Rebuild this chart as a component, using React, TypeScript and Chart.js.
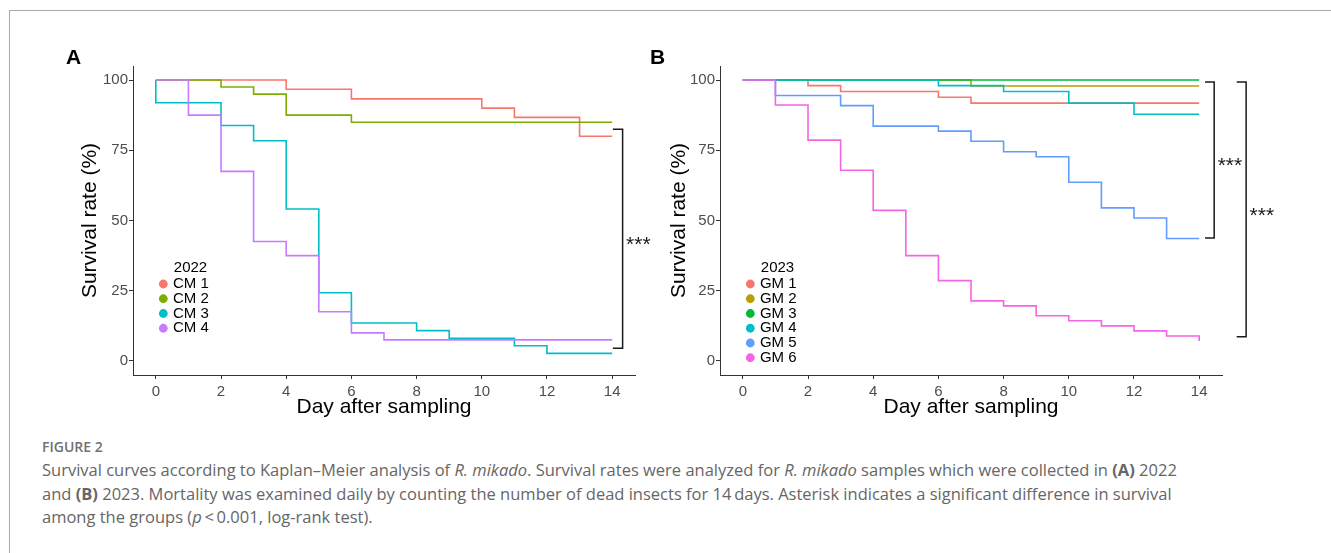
import React, { useEffect, useRef } from 'react';
import { Chart, registerables } from 'chart.js';

Chart.register(...registerables);

const FONT = '"Liberation Sans", Arial, Helvetica, sans-serif';

// ---- shared axes ----
const dayTicks = [0, 2, 4, 6, 8, 10, 12, 14];
const rateTicks = [0, 25, 50, 75, 100];
const xTitle = 'Day after sampling';
const yTitle = 'Survival rate (%)';

// ---- Panel A (2022) ----
const legendTitleA = '2022';
const namesA = ['CM 1', 'CM 2', 'CM 3', 'CM 4'];
const colorsA = ['#F8766D', '#7CAE00', '#00BFC4', '#C77CFF'];
const cm1Days = [0, 4, 6, 10, 11, 13, 14];
const cm1Rate = [100, 96.7, 93.3, 90, 86.7, 80, 80];
const cm2Days = [0, 2, 3, 4, 6, 14];
const cm2Rate = [100, 97.5, 95, 87.5, 85, 85];
const cm3Days = [0, 0, 2, 3, 4, 5, 6, 8, 9, 11, 12, 14];
const cm3Rate = [100, 91.9, 83.8, 78.4, 54.1, 24.3, 13.5, 10.8, 8.1, 5.4, 2.7, 2.7];
const cm4Days = [0, 1, 2, 3, 4, 5, 6, 7, 14];
const cm4Rate = [100, 87.5, 67.5, 42.5, 37.5, 17.5, 10, 7.5, 7.5];

// significance bracket A: x of bar, x of arms, top, bottom, label y
const bracketsA = [{ x: 14.32, arm: 14.02, top: 82.5, bottom: 4.5, labelY: 43, label: '***' }];

// ---- Panel B (2023) ----
const legendTitleB = '2023';
const namesB = ['GM 1', 'GM 2', 'GM 3', 'GM 4', 'GM 5', 'GM 6'];
const colorsB = ['#F8766D', '#B79F00', '#00BA38', '#00BFC4', '#619CFF', '#F564E3'];
const gm1Days = [0, 2, 3, 6, 7, 14];
const gm1Rate = [100, 98, 95.9, 93.9, 91.8, 91.8];
const gm2Days = [0, 7, 14];
const gm2Rate = [100, 97.9, 97.9];
const gm3Days = [0, 14];
const gm3Rate = [100, 100];
const gm4Days = [0, 6, 8, 10, 12, 14];
const gm4Rate = [100, 98, 95.9, 91.8, 87.8, 87.8];
const gm5Days = [0, 1, 3, 4, 6, 7, 8, 9, 10, 11, 12, 13, 14];
const gm5Rate = [100, 94.5, 90.9, 83.6, 81.8, 78.2, 74.5, 72.7, 63.6, 54.5, 50.9, 43.6, 43.6];
const gm6Days = [0, 1, 2, 3, 4, 5, 6, 7, 8, 9, 10, 11, 12, 13, 14];
const gm6Rate = [100, 91.1, 78.6, 67.9, 53.6, 37.5, 28.6, 21.4, 19.6, 16.1, 14.3, 12.5, 10.7, 8.9, 7.1];

const bracketsB = [
  { x: 14.46, arm: 14.18, top: 99.3, bottom: 43.8, labelY: 71.3, label: '***' },
  { x: 15.44, arm: 15.15, top: 99.3, bottom: 8.6, labelY: 53.4, label: '***' },
];

const seriesA = [
  [cm1Days, cm1Rate],
  [cm2Days, cm2Rate],
  [cm3Days, cm3Rate],
  [cm4Days, cm4Rate],
];
const seriesB = [
  [gm1Days, gm1Rate],
  [gm2Days, gm2Rate],
  [gm3Days, gm3Rate],
  [gm4Days, gm4Rate],
  [gm5Days, gm5Rate],
  [gm6Days, gm6Rate],
];

const bracketPlugin = {
  id: 'kmBrackets',
  afterDraw(chart: any, _args: any, opts: any) {
    const { ctx } = chart;
    const x = chart.scales.x;
    const y = chart.scales.y;
    ctx.save();
    ctx.strokeStyle = '#1a1a1a';
    ctx.fillStyle = '#1a1a1a';
    ctx.lineWidth = 1.5;
    for (const b of opts.items || []) {
      const xv = x.getPixelForValue(b.x);
      const xa = x.getPixelForValue(b.arm);
      const y1 = y.getPixelForValue(b.top);
      const y2 = y.getPixelForValue(b.bottom);
      ctx.beginPath();
      ctx.moveTo(xa, y1);
      ctx.lineTo(xv, y1);
      ctx.lineTo(xv, y2);
      ctx.lineTo(xa, y2);
      ctx.stroke();
      ctx.font = `21px ${FONT}`;
      ctx.textAlign = 'left';
      ctx.textBaseline = 'middle';
      ctx.fillText(b.label, xv + 3.5, y.getPixelForValue(b.labelY) + 5.5);
    }
    ctx.restore();
  },
};

const legendPlugin = {
  id: 'kmLegend',
  afterDraw(chart: any, _args: any, opts: any) {
    if (!opts.names) return;
    const { ctx, chartArea } = chart;
    const cx = chartArea.left + opts.dx;
    const y0 = chartArea.top + opts.dy;
    ctx.save();
    ctx.font = `15px ${FONT}`;
    ctx.textAlign = 'left';
    ctx.textBaseline = 'middle';
    ctx.fillStyle = '#000';
    ctx.fillText(opts.title, cx + 10.5, y0);
    opts.names.forEach((n: string, i: number) => {
      const yy = y0 + 16 + i * 14.75;
      ctx.beginPath();
      ctx.arc(cx, yy, 4.4, 0, Math.PI * 2);
      ctx.fillStyle = opts.colors[i];
      ctx.fill();
      ctx.fillStyle = '#000';
      ctx.fillText(n, cx + 9.6, yy);
    });
    ctx.restore();
  },
};

function makeConfig(
  series: number[][][],
  colors: string[],
  names: string[],
  legendTitle: string,
  brackets: any[],
  pad: { left: number; right: number },
  yWidth: number
) {
  return {
    type: 'line',
    data: {
      datasets: series.map(([days, rate], i) => ({
        label: names[i],
        data: days.map((d, k) => ({ x: d, y: rate[k] })),
        borderColor: colors[i],
        backgroundColor: colors[i],
        borderWidth: 1.6,
        pointRadius: 0,
        stepped: 'before',
        fill: false,
        order: -i,
      })),
    },
    options: {
      responsive: false,
      animation: false,
      events: [],
      layout: { padding: { left: pad.left, right: pad.right, top: 66, bottom: 10 } },
      plugins: {
        legend: { display: false },
        tooltip: { enabled: false },
        kmLegend: { names, colors, title: legendTitle, dx: 30.3, dy: 202 },
        kmBrackets: { items: brackets },
      },
      scales: {
        x: {
          type: 'linear',
          min: -0.7,
          max: 14.7,
          afterBuildTicks: (s: any) => {
            s.ticks = dayTicks.map((v) => ({ value: v }));
          },
          afterFit: (s: any) => {
            s.height = 45;
          },
          ticks: { font: { size: 15, family: FONT }, color: '#4d4d4d', padding: 3.5, maxRotation: 0, autoSkip: false },
          grid: { display: true, drawOnChartArea: false, drawTicks: true, tickLength: 4, color: '#333333', lineWidth: 1 },
          border: { display: true, color: '#333333', width: 1 },
          title: {
            display: true,
            text: xTitle,
            color: '#000',
            font: { size: 21, family: FONT },
            padding: { top: 0, bottom: 0 },
          },
        },
        y: {
          type: 'linear',
          min: -5,
          max: 105,
          afterBuildTicks: (s: any) => {
            s.ticks = rateTicks.map((v) => ({ value: v }));
          },
          afterFit: (s: any) => {
            s.width = yWidth;
          },
          ticks: { font: { size: 15, family: FONT }, color: '#4d4d4d', padding: 1 },
          grid: { display: true, drawOnChartArea: false, drawTicks: true, tickLength: 4, color: '#333333', lineWidth: 1 },
          border: { display: true, color: '#333333', width: 1 },
          title: {
            display: true,
            text: yTitle,
            color: '#000',
            font: { size: 21, family: FONT },
            padding: { top: 0, bottom: 0 },
          },
        },
      },
    },
    plugins: [legendPlugin, bracketPlugin],
  };
}

function Panel(props: { cfg: any; left: number; width: number; height: number }) {
  const ref = useRef<HTMLCanvasElement | null>(null);
  useEffect(() => {
    if (!ref.current) return;
    const chart = new Chart(ref.current, props.cfg);
    return () => chart.destroy();
  }, []);
  return (
    <canvas
      ref={ref}
      width={props.width}
      height={props.height}
      style={{ position: 'absolute', left: props.left, top: 0, width: props.width, height: props.height }}
    />
  );
}

const cfgA = makeConfig(seriesA, colorsA, namesA, legendTitleA, bracketsA, { left: 78, right: 25 }, 55);
const cfgB = makeConfig(seriesB, colorsB, namesB, legendTitleB, bracketsB, { left: 37, right: 109 }, 53);

export default function App() {
  const cap: React.CSSProperties = {
    position: 'absolute',
    left: 42,
    top: 458,
    fontFamily: '"Open Sans", "Noto Sans", sans-serif',
    fontSize: 16.5,
    lineHeight: '23.7px',
    color: '#666666',
    whiteSpace: 'nowrap',
  };
  return (
    <div
      style={{
        position: 'absolute',
        left: 0,
        top: 0,
        width: 1331,
        height: 553,
        overflow: 'hidden',
        background: '#fff',
      }}
    >
      <div
        style={{
          position: 'absolute',
          left: 9,
          top: 10,
          width: 1400,
          height: 700,
          borderTop: '1px solid #a9a9a9',
          borderLeft: '1px solid #a9a9a9',
        }}
      />
      <Panel cfg={cfgA} left={0} width={660} height={430} />
      <Panel cfg={cfgB} left={630} width={701} height={430} />
      <div style={{ position: 'absolute', left: 66, top: 46, font: `bold 21px ${FONT}`, lineHeight: '21px', color: '#000' }}>A</div>
      <div style={{ position: 'absolute', left: 650, top: 46, font: `bold 21px ${FONT}`, lineHeight: '21px', color: '#000' }}>B</div>
      <div
        style={{
          position: 'absolute',
          left: 42,
          top: 437,
          fontFamily: '"Open Sans", "Noto Sans", sans-serif',
          fontWeight: 600,
          fontSize: 14,
          lineHeight: '19px',
          color: '#707070',
        }}
      >
        FIGURE 2
      </div>
      <div style={cap}>
        Survival curves according to Kaplan–Meier analysis of <i>R. mikado</i>. Survival rates were analyzed for{' '}
        <i>R. mikado</i> samples which were collected in <b>(A)</b> 2022
        <br />
        and <b>(B)</b> 2023. Mortality was examined daily by counting the number of dead insects for 14&#8201;days.
        Asterisk indicates a significant difference in survival
        <br />
        among the groups (<i>p</i>&#8201;&lt;&#8201;0.001, log-rank test).
      </div>
    </div>
  );
}
